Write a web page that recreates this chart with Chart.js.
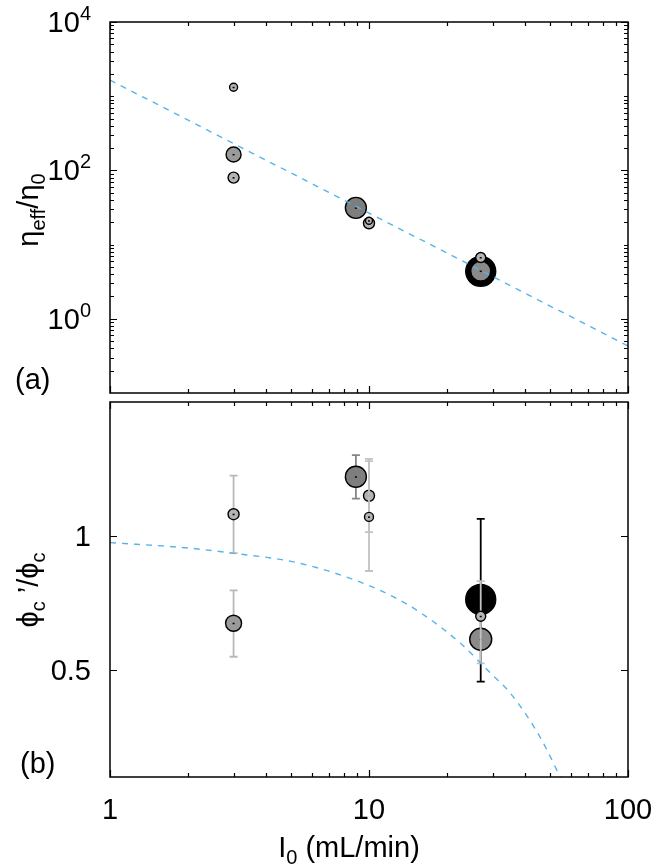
<!DOCTYPE html>
<html>
<head>
<meta charset="utf-8">
<script src="https://cdn.jsdelivr.net/npm/chart.js@4.4.0/dist/chart.umd.min.js"></script>
<style>
  html, body { margin: 0; padding: 0; background: #fff; }
  #wrap { position: relative; width: 668px; height: 864px; }
  canvas { position: absolute; left: 0; }
  #top { top: 0; }
  #bot { top: 400px; }
</style>
</head>
<body>
<div id="wrap">
  <canvas id="top" width="668" height="400"></canvas>
  <canvas id="bot" width="668" height="464"></canvas>
</div>
<script>
// ---- data ----
// panel (a): eta_eff / eta_0 against I0
const topX = [3, 3, 3, 8.9, 10, 10, 27, 27, 27];
const topY = [1320, 164, 80, 31.3, 19.4, 21, 4.36, 4.4, 6.7];
// panel (b): phi_c' / phi_c against I0, with error bars
const botX = [3, 3, 8.9, 10, 10, 27, 27, 27];
const botY = [1.081, 0.674, 1.221, 1.15, 1.071, 0.763, 0.614, 0.70];
const botLow = [0.936, 0.549, 1.139, 1.014, 0.869, 0.456, null, 0.524];
const botHigh = [1.225, 0.797, 1.302, 1.279, 1.288, 1.064, null, 0.831];
// dashed fit curves
const fitTopX = [1, 100];
const fitTopY = [1650, 0.43];
const fitBotX = [1, 2, 3, 5, 8, 12, 16, 22.5, 30, 35, 45.7, 56];
const fitBotY = [0.975, 0.955, 0.935, 0.905, 0.85, 0.78, 0.71, 0.60, 0.48, 0.415, 0.25, 0.08];
// axis ticks
const xMajor = [1, 10, 100];
const xTickLabels = ['1', '10', '100'];
const topYMajor = [1, 100, 10000];
const topYExp = ['0', '2', '4'];
const botYMajor = [0.5, 1];
const botYLabels = ['0.5', '1'];

// ---- marker styles ----
const LIGHT = '#b4b4b4', MID = '#9a9a9a', DARK = '#7e7e7e', DARK2 = '#8a8a8a';
const topRadius = [4, 7.5, 5.5, 10.5, 5.5, 3.5, 15, 10, 5];
const topFill = [LIGHT, MID, LIGHT, DARK, LIGHT, LIGHT, '#000', DARK2, LIGHT];
const botRadius = [5.5, 8, 10.5, 5.5, 4.5, 15, 11, 5];
const botFill = [LIGHT, MID, DARK, LIGHT, LIGHT, '#000', DARK2, LIGHT];
const botBarColor = ['#b8b8b8', '#b8b8b8', '#858585', '#c2c2c2', '#c2c2c2', '#000', null, '#c2c2c2'];

const FONT = '"Liberation Sans", Arial, Helvetica, sans-serif';
const BIG = 29, SMALL = 20;

function richText(ctx, parts, x, y, align) {
  // parts: [text, 1 = superscript | -1 = subscript | 0 = normal]
  let w = 0;
  parts.forEach(p => {
    ctx.font = (p[1] ? SMALL : BIG) + 'px ' + FONT;
    w += ctx.measureText(p[0]).width;
  });
  let cx = align === 'right' ? x - w : align === 'center' ? x - w / 2 : x;
  ctx.textAlign = 'left';
  ctx.textBaseline = 'alphabetic';
  ctx.fillStyle = '#000';
  parts.forEach(p => {
    ctx.font = (p[1] ? SMALL : BIG) + 'px ' + FONT;
    const dy = p[1] === 1 ? -12 : p[1] === -1 ? 7 : 0;
    ctx.fillText(p[0], cx, y + dy);
    cx += ctx.measureText(p[0]).width;
  });
}

function logMinors(lo, hi, majors) {
  const out = [];
  for (let d = Math.floor(Math.log10(lo)); d <= Math.ceil(Math.log10(hi)); d++) {
    for (let k = 1; k <= 9; k++) {
      const v = k * Math.pow(10, d);
      if (v > lo && v < hi && !majors.includes(v)) out.push(v);
    }
  }
  return out;
}

function pointSets(xs, ys, radius, fill, extra) {
  return xs.map((x, i) => Object.assign({
    type: 'scatter',
    data: [{ x: x, y: ys[i] }],
    pointRadius: radius[i],
    pointHoverRadius: radius[i],
    backgroundColor: fill[i],
    borderColor: '#000',
    borderWidth: 1.4,
    order: -i
  }, extra ? extra(i) : {}));
}

function fitSet(xs, ys) {
  return {
    type: 'line',
    data: xs.map((x, i) => ({ x: x, y: ys[i] })),
    borderColor: '#56b4e9',
    borderWidth: 1.4,
    borderDash: [6, 6],
    pointRadius: 0,
    fill: false,
    cubicInterpolationMode: 'monotone',
    order: -100
  };
}

// frame, inward ticks, error bars, centre dots and all text
const panelPlugin = {
  id: 'panel',
  beforeDatasetDraw(chart, args) {
    const ds = chart.data.datasets[args.index];
    if (ds.errLow == null) return;
    const ctx = chart.ctx, xs = chart.scales.x, ys = chart.scales.y;
    const px = xs.getPixelForValue(ds.data[0].x);
    const y1 = ys.getPixelForValue(ds.errLow), y2 = ys.getPixelForValue(ds.errHigh);
    ctx.save();
    ctx.strokeStyle = ds.barColor;
    ctx.lineWidth = 1.8;
    ctx.beginPath();
    ctx.moveTo(px, y1); ctx.lineTo(px, y2);
    ctx.moveTo(px - 4, y1); ctx.lineTo(px + 4, y1);
    ctx.moveTo(px - 4, y2); ctx.lineTo(px + 4, y2);
    ctx.stroke();
    ctx.restore();
  },
  afterDatasetDraw(chart, args) {
    const ds = chart.data.datasets[args.index];
    if (ds.type !== 'scatter') return;
    const ctx = chart.ctx;
    const px = chart.scales.x.getPixelForValue(ds.data[0].x);
    const py = chart.scales.y.getPixelForValue(ds.data[0].y);
    ctx.save();
    ctx.fillStyle = ds.backgroundColor === '#000' ? '#333' : '#000';
    ctx.fillRect(px - 1, py - 0.5, 2, 1.5);
    ctx.restore();
  },
  afterDraw(chart, args, opts) {
    const ctx = chart.ctx, a = chart.chartArea;
    const xs = chart.scales.x, ys = chart.scales.y;
    ctx.save();
    ctx.strokeStyle = '#000';
    ctx.lineWidth = 1.2;
    ctx.beginPath();
    const tick = (v, len, isX) => {
      if (isX) {
        const p = Math.round(xs.getPixelForValue(v)) + 0.5;
        ctx.moveTo(p, a.bottom); ctx.lineTo(p, a.bottom - len);
        ctx.moveTo(p, a.top); ctx.lineTo(p, a.top + len);
      } else {
        const p = Math.round(ys.getPixelForValue(v)) + 0.5;
        ctx.moveTo(a.left, p); ctx.lineTo(a.left + len, p);
        ctx.moveTo(a.right, p); ctx.lineTo(a.right - len, p);
      }
    };
    xMajor.forEach(v => tick(v, 7, true));
    logMinors(1, 100, xMajor).forEach(v => tick(v, 4, true));
    opts.yMajor.forEach(v => tick(v, 7, false));
    (opts.yMinor || []).forEach(v => tick(v, 4, false));
    ctx.stroke();
    ctx.lineWidth = 1.5;
    ctx.strokeRect(a.left, a.top, a.right - a.left, a.bottom - a.top);
    ctx.restore();
    ctx.save();
    opts.yMajor.forEach((v, i) => {
      const p = ys.getPixelForValue(v);
      richText(ctx, opts.yLabel(i), 91, p + 10, 'right');
    });
    if (opts.xLabels) {
      xMajor.forEach((v, i) => {
        richText(ctx, [[xTickLabels[i], 0]], xs.getPixelForValue(v), a.bottom + 42, 'center');
      });
      richText(ctx, [['I', 0], ['0', -1], [' (mL/min)', 0]], (a.left + a.right) / 2 - 20, a.bottom + 80, 'center');
    }
    richText(ctx, [[opts.tag, 0]], opts.tagX, a.bottom - 4, 'left');
    ctx.translate(opts.titleX, opts.titleY);
    ctx.rotate(-Math.PI / 2);
    richText(ctx, opts.title, 0, 0, 'center');
    ctx.restore();
  }
};

function baseOptions(ymin, ymax, ytype, pad, panel) {
  return {
    responsive: false,
    animation: false,
    devicePixelRatio: 1,
    layout: { padding: pad, autoPadding: false },
    plugins: { legend: { display: false }, tooltip: { enabled: false }, panel: panel },
    scales: {
      x: { type: 'logarithmic', min: 1, max: 100, display: false },
      y: { type: ytype, min: ymin, max: ymax, display: false }
    }
  };
}

new Chart(document.getElementById('top'), {
  type: 'scatter',
  data: { datasets: pointSets(topX, topY, topRadius, topFill).concat([fitSet(fitTopX, fitTopY)]) },
  options: baseOptions(0.1, 10000, 'logarithmic',
    { left: 110, right: 40, top: 22, bottom: 7 },
    {
      yMajor: topYMajor,
      yMinor: logMinors(0.1, 10000, topYMajor),
      yLabel: i => [['10', 0], [topYExp[i], 1]],
      xLabels: false,
      tag: '(a)', tagX: 15,
      title: [['\u03b7', 0], ['eff', -1], ['/\u03b7', 0], ['0', -1]],
      titleX: 38, titleY: 210
    }),
  plugins: [panelPlugin]
});

new Chart(document.getElementById('bot'), {
  type: 'scatter',
  data: {
    datasets: pointSets(botX, botY, botRadius, botFill, i => ({
      errLow: botLow[i], errHigh: botHigh[i], barColor: botBarColor[i]
    })).concat([fitSet(fitBotX, fitBotY)])
  },
  options: baseOptions(0.1, 1.5, 'linear',
    { left: 110, right: 40, top: 2, bottom: 87 },
    {
      yMajor: botYMajor,
      yLabel: i => [[botYLabels[i], 0]],
      xLabels: true,
      tag: '(b)', tagX: 20,
      title: [['\u03d5', 0], ['c', -1], [' \u2019/\u03d5', 0], ['c', -1]],
      titleX: 38, titleY: 190
    }),
  plugins: [panelPlugin]
});
</script>
</body>
</html>
